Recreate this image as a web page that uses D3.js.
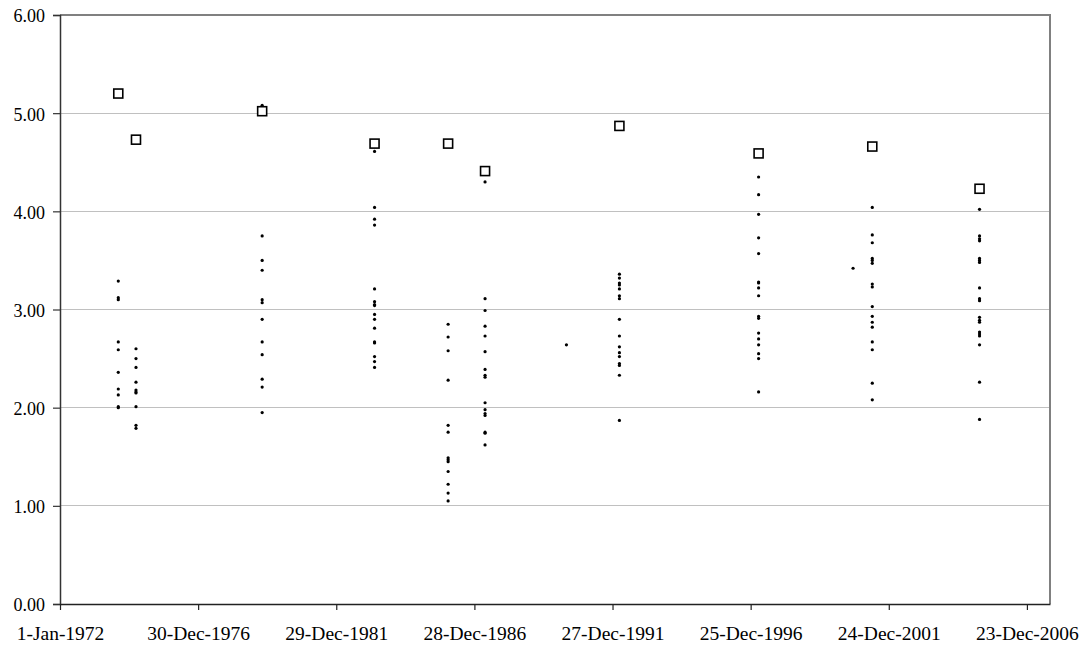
<!DOCTYPE html>
<html>
<head>
<meta charset="utf-8">
<script src="https://cdn.jsdelivr.net/npm/d3@7/dist/d3.min.js"></script>
<style>
  html, body { margin: 0; padding: 0; background: #fff; }
  svg { display: block; }
  text { font-family: "Liberation Serif", "Times New Roman", serif; fill: #000; }
</style>
</head>
<body>
<svg id="chart" width="1090" height="651"></svg>
<script>
// ---- data ----
const columnDates = ["1974-02-09", "1974-10-01", "1979-04-25", "1983-05-19", "1986-01-15",
                     "1987-05-18", "1992-03-27", "1997-04-09", "2001-05-20", "2005-04-06"];
const squareValues = [5.20, 4.73, 5.02, 4.69, 4.69, 4.41, 4.87, 4.59, 4.66, 4.23];
const dotValues = [
  [3.29, 3.12, 3.10, 2.67, 2.59, 2.36, 2.19, 2.13, 2.01, 2.00],
  [2.60, 2.50, 2.41, 2.26, 2.18, 2.16, 2.15, 2.01, 1.82, 1.79],
  [5.08, 3.75, 3.50, 3.40, 3.10, 3.07, 2.90, 2.67, 2.54, 2.29, 2.21, 1.95],
  [4.61, 4.04, 3.92, 3.86, 3.21, 3.08, 3.05, 3.04, 2.95, 2.90, 2.81, 2.67, 2.66, 2.52, 2.47, 2.41],
  [2.85, 2.72, 2.58, 2.28, 1.82, 1.75, 1.49, 1.47, 1.45, 1.35, 1.22, 1.13, 1.05],
  [4.30, 3.11, 2.99, 2.83, 2.73, 2.57, 2.39, 2.33, 2.31, 2.05, 1.98, 1.94, 1.92, 1.75, 1.74, 1.62],
  [3.36, 3.32, 3.27, 3.25, 3.21, 3.14, 3.11, 2.90, 2.73, 2.62, 2.56, 2.52, 2.45, 2.43, 2.33, 1.87],
  [4.35, 4.17, 3.97, 3.73, 3.57, 3.28, 3.27, 3.22, 3.14, 2.93, 2.91, 2.76, 2.70, 2.64, 2.55, 2.50, 2.16],
  [4.04, 3.76, 3.68, 3.52, 3.50, 3.47, 3.26, 3.23, 3.03, 2.93, 2.87, 2.82, 2.67, 2.59, 2.25, 2.08],
  [4.02, 3.75, 3.72, 3.70, 3.52, 3.50, 3.48, 3.22, 3.11, 3.09, 2.92, 2.89, 2.87, 2.77, 2.75, 2.73, 2.64, 2.26, 1.88]
];
const extraDotDates = ["1990-04-27", "2000-09-08"];
const extraDotValues = [2.64, 3.42];
const xTickLabels = ["1-Jan-1972", "30-Dec-1976", "29-Dec-1981", "28-Dec-1986",
                     "27-Dec-1991", "25-Dec-1996", "24-Dec-2001", "23-Dec-2006"];
const xDomain = ["1972-01-01", "2007-10-24"];
const yTicks = [0, 1, 2, 3, 4, 5, 6];

// ---- layout ----
const plotLeft = 60, plotRight = 1050, plotTop = 15, plotBottom = 604;
const parseISO = d3.utcParse("%Y-%m-%d");
const parseTick = d3.utcParse("%d-%b-%Y");
const fmtTick = d3.utcFormat("%-d-%b-%Y");

const x = d3.scaleUtc().domain(xDomain.map(parseISO)).range([plotLeft, plotRight]);
const y = d3.scaleLinear().domain([0, 6]).range([plotBottom, plotTop]);

const svg = d3.select("#chart");

// gridlines
svg.append("g").selectAll("line").data(yTicks.filter(v => v > 0 && v < 6)).join("line")
  .attr("x1", plotLeft).attr("x2", plotRight)
  .attr("y1", d => y(d)).attr("y2", d => y(d))
  .attr("stroke", "#c0c0c0").attr("stroke-width", 1).attr("shape-rendering", "crispEdges");

// plot border top/right
svg.append("path")
  .attr("d", `M${plotLeft},${y(6)}H${plotRight}V${plotBottom}`)
  .attr("fill", "none").attr("stroke", "#808080").attr("stroke-width", 1.2)
  .attr("shape-rendering", "crispEdges");

// y axis
const yAxis = d3.axisLeft(y).tickValues(yTicks).tickFormat(d3.format(".2f")).tickSize(7).tickPadding(8);
const gy = svg.append("g").attr("transform", `translate(${plotLeft},0)`).call(yAxis);
gy.select(".domain").attr("stroke", "#333").attr("stroke-width", 1.5);
gy.selectAll(".tick line").attr("stroke", "#333").attr("stroke-width", 1.2);
gy.selectAll(".tick text")
  .style("font-family", '"Liberation Serif", "Times New Roman", serif')
  .style("font-size", "18px").attr("fill", "#000").attr("dy", "0.38em");

// x axis
const xTickDates = xTickLabels.map(parseTick);
const xAxis = d3.axisBottom(x).tickValues(xTickDates).tickFormat(fmtTick).tickSize(6).tickPadding(20).tickSizeOuter(0);
const gx = svg.append("g").attr("transform", `translate(0,${plotBottom})`).call(xAxis);
gx.select(".domain").attr("stroke", "#222").attr("stroke-width", 1.5);
gx.selectAll(".tick line").attr("stroke", "#222").attr("stroke-width", 1.2);
gx.selectAll(".tick text")
  .style("font-family", '"Liberation Serif", "Times New Roman", serif')
  .style("font-size", "19.5px").attr("fill", "#000").attr("dy", "0.5em");

// dots
const dots = [];
columnDates.forEach((d, i) => dotValues[i].forEach(v => dots.push({ date: parseISO(d), v })));
extraDotDates.forEach((d, i) => dots.push({ date: parseISO(d), v: extraDotValues[i] }));
svg.append("g").selectAll("circle").data(dots).join("circle")
  .attr("cx", d => x(d.date)).attr("cy", d => y(d.v)).attr("r", 1.6).attr("fill", "#000");

// squares
const sq = columnDates.map((d, i) => ({ date: parseISO(d), v: squareValues[i] }));
const sqSize = 9;
svg.append("g").selectAll("rect").data(sq).join("rect")
  .attr("x", d => x(d.date) - sqSize / 2).attr("y", d => y(d.v) - sqSize / 2)
  .attr("width", sqSize).attr("height", sqSize)
  .attr("fill", "#fff").attr("stroke", "#000").attr("stroke-width", 1.6);
</script>
</body>
</html>
